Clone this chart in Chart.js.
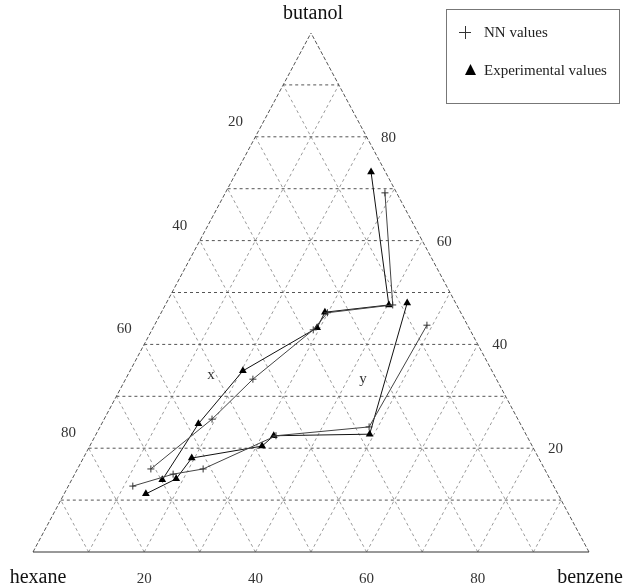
<!DOCTYPE html>
<html>
<head>
<meta charset="utf-8">
<script src="https://cdn.jsdelivr.net/npm/chart.js@4/dist/chart.umd.min.js"></script>
<style>
body { margin: 0; background: #fff; }
</style>
</head>
<body>
<canvas id="chart" width="626" height="587"></canvas>
<script>
const CHART = document.getElementById("chart").getContext("2d");

const vertexLabels = ["butanol", "hexane", "benzene"];
const tickValues = [20, 40, 60, 80];
const seriesNames = ["NN values", "Experimental values"];
const phaseLabels = ["x", "y"];

// values in % : butanol and benzene (hexane is the rest)
const expXButanol = [73.2, 47.6, 46.2, 43.2, 34.9, 24.7, 13.9];
const expXBenzene = [24.2, 40.2, 29.4, 29.5, 20.3, 17.4, 16.3];
const expYButanol = [11.2, 14.1, 18.1, 20.4, 22.4, 22.7, 48.0];
const expYBenzene = [14.7, 18.7, 19.5, 31.0, 32.1, 49.2, 43.3];

const nnXButanol = [69.2, 47.6, 46.1, 42.8, 33.3, 25.6, 16.0];
const nnXBenzene = [28.7, 40.9, 29.9, 29.0, 22.9, 19.4, 13.2];
const nnYButanol = [12.7, 15.0, 16.0, 22.4, 24.1, 43.7];
const nnYBenzene = [11.6, 17.7, 22.6, 32.5, 48.4, 49.0];

// ternary -> cartesian (0..1)
function toXY(butanol, benzene) {
    return { x: (benzene + butanol / 2) / 100, y: butanol / 100 };
}

function branch(butanol, benzene) {
    return butanol.map(function (a, i) { return toXY(a, benzene[i]); });
}

const SERIF = "'Liberation Serif', 'DejaVu Serif', serif";

const ternaryGrid = {
    id: "ternaryGrid",
    beforeDatasetsDraw(chart) {
        const ctx = chart.ctx;
        const sx = chart.scales.x, sy = chart.scales.y;
        function px(p) { return [sx.getPixelForValue(p.x), sy.getPixelForValue(p.y)]; }
        function line(p1, p2) {
            const a = px(p1), b = px(p2);
            ctx.beginPath();
            ctx.moveTo(a[0], a[1]);
            ctx.lineTo(b[0], b[1]);
            ctx.stroke();
        }
        ctx.save();
        ctx.lineWidth = 1;
        // diagonal grid lines
        ctx.strokeStyle = "#9a9a9a";
        ctx.setLineDash([3, 3]);
        for (let k = 10; k < 100; k += 10) {
            line(toXY(0, k), toXY(100 - k, k));
            line(toXY(0, 100 - k), toXY(100 - k, 0));
        }
        // horizontal grid lines
        ctx.strokeStyle = "#555";
        ctx.setLineDash([3, 3]);
        for (let k = 10; k < 100; k += 10) {
            line(toXY(k, 0), toXY(k, 100 - k));
        }
        // edges
        ctx.strokeStyle = "#555";
        ctx.setLineDash([4, 2]);
        line(toXY(0, 0), toXY(100, 0));
        line(toXY(0, 100), toXY(100, 0));
        ctx.setLineDash([]);
        ctx.strokeStyle = "#333";
        line(toXY(0, 0), toXY(0, 100));
        ctx.restore();
    },
    afterDraw(chart) {
        const ctx = chart.ctx;
        const sx = chart.scales.x, sy = chart.scales.y;
        function px(p) { return [sx.getPixelForValue(p.x), sy.getPixelForValue(p.y)]; }
        ctx.save();
        ctx.fillStyle = "#111";
        ctx.textAlign = "center";
        ctx.textBaseline = "middle";

        // vertex names
        ctx.font = "20px " + SERIF;
        let p = px(toXY(100, 0));
        ctx.fillText(vertexLabels[0], p[0] + 2, p[1] - 19);
        p = px(toXY(0, 0));
        ctx.fillText(vertexLabels[1], p[0] + 5, p[1] + 26);
        p = px(toXY(0, 100));
        ctx.fillText(vertexLabels[2], p[0] + 1, p[1] + 26);

        // tick labels
        ctx.font = "15px " + SERIF;
        ctx.fillStyle = "#333";
        tickValues.forEach(function (v) {
            // bottom: benzene
            let q = px(toXY(0, v));
            ctx.fillText(String(v), q[0], q[1] + 27);
            // left: hexane
            q = px(toXY(100 - v, 0));
            ctx.fillText(String(v), q[0] - 20, q[1] - 15);
            // right: butanol
            q = px(toXY(v, 100 - v));
            ctx.fillText(String(v), q[0] + 22, q[1] + 1);
        });

        // phase labels
        ctx.font = "15px " + SERIF;
        ctx.fillText(phaseLabels[0], 211, 375);
        ctx.fillText(phaseLabels[1], 363, 379);

        // legend box
        ctx.strokeStyle = "#777";
        ctx.lineWidth = 1;
        ctx.strokeRect(446.5, 9.5, 173, 94);
        ctx.strokeStyle = "#333";
        ctx.beginPath();
        ctx.moveTo(459, 32.5); ctx.lineTo(471, 32.5);
        ctx.moveTo(465.5, 26); ctx.lineTo(465.5, 39);
        ctx.stroke();
        ctx.fillStyle = "#000";
        ctx.beginPath();
        ctx.moveTo(470.5, 64); ctx.lineTo(476, 75); ctx.lineTo(465, 75);
        ctx.closePath();
        ctx.fill();
        ctx.textAlign = "left";
        ctx.font = "15px " + SERIF;
        ctx.fillStyle = "#222";
        ctx.fillText(seriesNames[0], 484, 33);
        ctx.fillText(seriesNames[1], 484, 71);
        ctx.restore();
    }
};

const nnStyle = {
    showLine: true,
    borderColor: "#444",
    backgroundColor: "#444",
    borderWidth: 1,
    pointStyle: "cross",
    pointRadius: 3.5,
    pointBorderWidth: 1,
    pointBorderColor: "#333",
};

const expStyle = {
    showLine: true,
    borderColor: "#111",
    backgroundColor: "#000",
    borderWidth: 1,
    pointStyle: "triangle",
    pointRadius: 4.5,
    pointBorderWidth: 0,
};

let ternaryChart = new Chart(CHART,
    {
        type: "scatter",
        data: {
            datasets: [
                Object.assign({ label: "NN x", data: branch(nnXButanol, nnXBenzene) }, nnStyle),
                Object.assign({ label: "NN y", data: branch(nnYButanol, nnYBenzene) }, nnStyle),
                Object.assign({ label: "Exp x", data: branch(expXButanol, expXBenzene) }, expStyle),
                Object.assign({ label: "Exp y", data: branch(expYButanol, expYBenzene) }, expStyle),
            ],
        },
        options: {
            responsive: false,
            animation: false,
            layout: { padding: { left: 33, right: 37, top: 33, bottom: 35 } },
            plugins: {
                legend: { display: false },
                tooltip: { enabled: false },
            },
            scales: {
                x: { type: "linear", min: 0, max: 1, display: false },
                y: { type: "linear", min: 0, max: 1, display: false },
            },
        },
        plugins: [ternaryGrid],
    }
);
</script>
</body>
</html>
